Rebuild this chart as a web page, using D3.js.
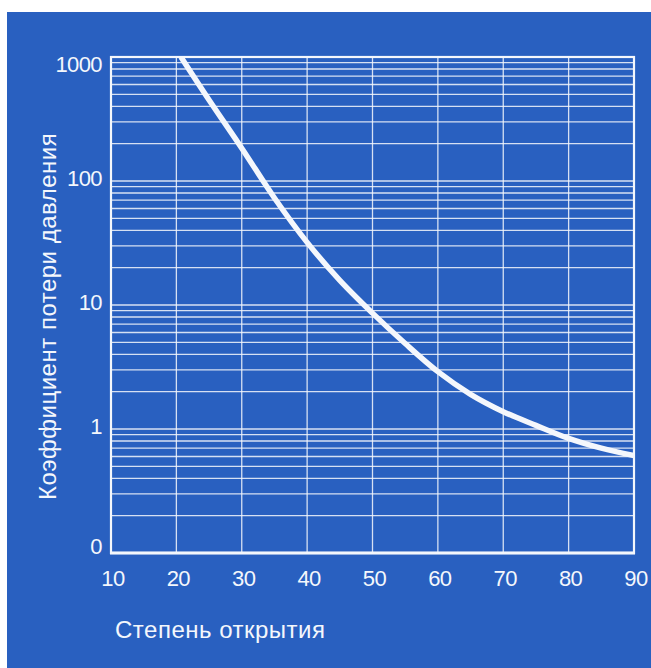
<!DOCTYPE html>
<html>
<head>
<meta charset="utf-8">
<script src="https://cdn.jsdelivr.net/npm/d3@7"></script>
<style>
  html, body { margin: 0; padding: 0; background: #ffffff; }
  svg { display: block; }
</style>
</head>
<body>
<div id="chart"></div>
<script>
// ---- data ----
const opening = [20.7, 25, 30, 35, 40, 45, 50, 55, 60, 65, 70, 75, 80, 85, 90];
const lossCoef = [1000, 450, 184, 73, 32, 15.8, 8.6, 4.89, 2.9, 1.905, 1.38, 1.07, 0.84, 0.70, 0.61];
const xTicks = [10, 20, 30, 40, 50, 60, 70, 80, 90];
const yTickValues = [1000, 100, 10, 1, 0.1];
const yTickLabels = ["1000", "100", "10", "1", "0"];
const xTitle = "Степень открытия";
const yTitle = "Коэффициент потери давления";

const W = 651, H = 668;
const blue = "#2960c0";
const white = "#f4f7fc";
const margin = { left: 111, right: W - 634, top: 57, bottom: H - 553 };
const iw = W - margin.left - margin.right;
const ih = H - margin.top - margin.bottom;

const svg = d3.select("#chart").append("svg").attr("width", W).attr("height", H);

// background panel (white strip top and left)
svg.append("rect").attr("x", 7).attr("y", 12).attr("width", W - 7).attr("height", H - 12).attr("fill", blue);

const x = d3.scaleLinear().domain([10, 90]).range([margin.left, margin.left + iw]);
const y = d3.scaleLog().domain([0.1, 1000]).range([margin.top + ih, margin.top]);

const g = svg.append("g");

// horizontal grid (1..9 per decade)
const hLines = [];
[0.1, 1, 10, 100].forEach(d => { for (let k = 1; k <= 9; k++) hLines.push(d * k); });
g.selectAll("line.h").data(hLines).join("line")
  .attr("class", "h")
  .attr("x1", margin.left).attr("x2", margin.left + iw)
  .attr("y1", d => y(d)).attr("y2", d => y(d))
  .attr("stroke", white).attr("stroke-opacity", 0.85).attr("stroke-width", 1.3);

// vertical grid
g.selectAll("line.v").data(xTicks.slice(1, -1)).join("line")
  .attr("class", "v")
  .attr("y1", margin.top).attr("y2", margin.top + ih)
  .attr("x1", d => x(d)).attr("x2", d => x(d))
  .attr("stroke", white).attr("stroke-opacity", 0.85).attr("stroke-width", 1.3);

// border
g.append("rect")
  .attr("x", margin.left).attr("y", margin.top).attr("width", iw).attr("height", ih)
  .attr("fill", "none").attr("stroke", white).attr("stroke-width", 2.2);
g.append("line")
  .attr("x1", margin.left - 1).attr("x2", margin.left + iw + 1)
  .attr("y1", margin.top + ih).attr("y2", margin.top + ih)
  .attr("stroke", white).attr("stroke-width", 3);

// curve
svg.append("clipPath").attr("id", "clip").append("rect")
  .attr("x", margin.left).attr("y", margin.top - 1).attr("width", iw).attr("height", ih);
const line = d3.line().x(d => x(d[0])).y(d => y(d[1])).curve(d3.curveCatmullRom.alpha(0.5));
svg.append("path")
  .datum(opening.map((v, i) => [v, lossCoef[i]]))
  .attr("clip-path", "url(#clip)")
  .attr("d", line)
  .attr("fill", "none").attr("stroke", white).attr("stroke-width", 5.5)
  .attr("stroke-linecap", "butt");

const font = "'Liberation Sans', Arial, sans-serif";

// x tick labels
svg.selectAll("text.xt").data(xTicks).join("text")
  .attr("class", "xt")
  .attr("x", d => x(d) + 2).attr("y", 586)
  .attr("text-anchor", "middle")
  .attr("font-family", font).attr("font-size", 22).attr("letter-spacing", -0.6)
  .attr("fill", white).text(d => d);

// y tick labels
svg.selectAll("text.yt").data(yTickValues).join("text")
  .attr("class", "yt")
  .attr("x", 102)
  .attr("y", (d, i) => y(d) + 5 + (i === 0 ? 10 : 0) - (i === yTickValues.length - 1 ? 4 : 0))
  .attr("text-anchor", "end")
  .attr("font-family", font).attr("font-size", 22).attr("letter-spacing", -0.6)
  .attr("fill", white).text((d, i) => yTickLabels[i]);

// axis titles
svg.append("text")
  .attr("x", 115).attr("y", 638)
  .attr("font-family", font).attr("font-size", 24).attr("letter-spacing", 0.5)
  .attr("fill", white).text(xTitle);

svg.append("text")
  .attr("transform", "translate(56,500) rotate(-90)")
  .attr("font-family", font).attr("font-size", 24).attr("letter-spacing", 0.5)
  .attr("fill", white).text(yTitle);
</script>
</body>
</html>
